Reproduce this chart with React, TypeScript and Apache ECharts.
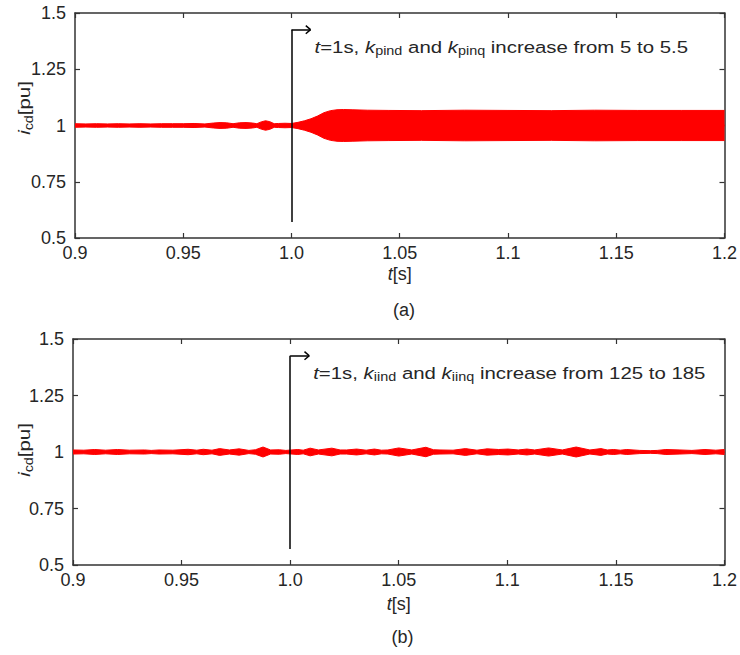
import React, { useEffect, useRef } from "react";
import * as echarts from "echarts";

// ---------- data ----------
const xTickLabels = ["0.9", "0.95", "1.0", "1.05", "1.1", "1.15", "1.2"];
const yTickLabels = ["0.5", "0.75", "1", "1.25", "1.5"];

// panel (a): envelope of the oscillating i_cd (half-width around 1 pu)
const timesA = [0.9, 0.905, 0.91, 0.915, 0.92, 0.925, 0.93, 0.935, 0.94, 0.945, 0.95, 0.955, 0.96, 0.964, 0.967, 0.97, 0.973, 0.976, 0.979, 0.982, 0.984, 0.986, 0.988, 0.99, 0.992, 0.994, 0.997, 1.0, 1.003, 1.006, 1.009, 1.012, 1.015, 1.018, 1.021, 1.024, 1.028, 1.035, 1.045, 1.06, 1.08, 1.1, 1.12, 1.14, 1.16, 1.18, 1.2];
const halfA = [0.008, 0.007, 0.008, 0.007, 0.008, 0.007, 0.008, 0.007, 0.008, 0.008, 0.008, 0.009, 0.007, 0.011, 0.013, 0.012, 0.008, 0.012, 0.013, 0.011, 0.008, 0.016, 0.021, 0.017, 0.008, 0.009, 0.01, 0.009, 0.014, 0.021, 0.03, 0.042, 0.057, 0.066, 0.07, 0.071, 0.07, 0.068, 0.067, 0.066, 0.068, 0.067, 0.066, 0.068, 0.067, 0.067, 0.067];

// panel (b)
const timesB = [0.9, 0.905, 0.91, 0.915, 0.9205, 0.926, 0.933, 0.936, 0.9396, 0.946, 0.953, 0.957, 0.96, 0.964, 0.9675, 0.972, 0.9765, 0.981, 0.984, 0.9875, 0.991, 0.995, 0.998, 1.0035, 1.006, 1.0092, 1.013, 1.0192, 1.023, 1.026, 1.0306, 1.035, 1.0388, 1.042, 1.045, 1.05, 1.056, 1.0625, 1.066, 1.069, 1.075, 1.0807, 1.086, 1.0907, 1.096, 1.1003, 1.105, 1.109, 1.1126, 1.119, 1.1253, 1.1317, 1.138, 1.1431, 1.146, 1.149, 1.152, 1.155, 1.161, 1.1658, 1.169, 1.173, 1.1795, 1.185, 1.191, 1.196, 1.2];
const halfB = [0.009, 0.008, 0.011, 0.008, 0.011, 0.008, 0.009, 0.007, 0.009, 0.008, 0.012, 0.008, 0.012, 0.008, 0.015, 0.009, 0.014, 0.007, 0.01, 0.022, 0.009, 0.01, 0.007, 0.011, 0.008, 0.017, 0.009, 0.017, 0.009, 0.009, 0.013, 0.008, 0.013, 0.008, 0.009, 0.018, 0.009, 0.021, 0.01, 0.009, 0.008, 0.015, 0.008, 0.014, 0.011, 0.013, 0.009, 0.013, 0.009, 0.018, 0.009, 0.022, 0.009, 0.015, 0.009, 0.011, 0.008, 0.011, 0.007, 0.006, 0.007, 0.011, 0.009, 0.007, 0.011, 0.008, 0.011];

const centerValue = 1.0;
const fillOverlap = 0.004;
const stepTime = 1.0;
const markerLow = 0.571;
const markerHigh = 1.426;
const arrowEnd = 1.0088;
const arrowBack = 1.0066;
const arrowHalf = 0.018;

const annotationTexts = [
  "{it|t}{n|=1s, }{it|k}{sub|pind}{n| and }{it|k}{sub|pinq}{n| increase from 5 to 5.5}",
  "{it|t}{n|=1s, }{it|k}{sub|iind}{n| and }{it|k}{sub|iinq}{n| increase from 125 to 185}",
];
const panelLabels = ["(a)", "(b)"];

// ---------- style ----------
const FONT = '"Liberation Sans", Arial, Helvetica, sans-serif';
const AXIS = "#333333";
const TXT = "#262626";
const RED = "#ff0000";

const grids = [
  { left: 75, top: 13, width: 658, height: 225 },
  { left: 73, top: 339, width: 659, height: 226 },
];

const richBase = {
  n: { fontSize: 17, fontFamily: FONT, color: TXT },
  it: { fontSize: 17, fontFamily: FONT, color: TXT, fontStyle: "italic" },
  sub: { fontSize: 12, fontFamily: FONT, color: TXT, padding: [9, 0, 0, 0] },
};
const richAxis = {
  n: { fontSize: 18, fontFamily: FONT, color: TXT },
  it: { fontSize: 18, fontFamily: FONT, color: TXT, fontStyle: "italic" },
};

function buildOption() {
  const xAxes: any[] = [];
  const yAxes: any[] = [];
  const series: any[] = [];
  const panels = [
    { t: timesA, h: halfA },
    { t: timesB, h: halfB },
  ];
  grids.forEach((g, gi) => {
    const common = {
      gridIndex: gi,
      type: "value",
      splitLine: { show: false },
      axisLine: { show: true, onZero: false, lineStyle: { color: AXIS, width: 1.5 } },
      axisTick: { show: true, inside: true, length: 5, lineStyle: { color: AXIS, width: 1.2 } },
    };
    const xc = { ...common, min: 0.9, max: 1.2, interval: 0.05 };
    const yc = { ...common, min: 0.5, max: 1.5, interval: 0.25 };
    xAxes.push({
      ...xc,
      position: "bottom",
      axisLabel: {
        show: true,
        margin: 6,
        fontSize: 18,
        fontFamily: FONT,
        color: TXT,
        showMinLabel: true,
        showMaxLabel: true,
        formatter: (v: number) => xTickLabels[Math.round((v - 0.9) / 0.05)] ?? "",
      },
      name: "{it|t}{n|[s]}",
      nameLocation: "middle",
      nameGap: gi === 0 ? 27 : 30,
      nameTextStyle: { fontSize: 18, fontFamily: FONT, color: TXT, rich: richAxis },
    });
    xAxes.push({ ...xc, position: "top", axisLabel: { show: false } });
    yAxes.push({
      ...yc,
      position: "left",
      axisLabel: {
        show: true,
        margin: 9,
        fontSize: 18,
        fontFamily: FONT,
        color: TXT,
        showMinLabel: true,
        showMaxLabel: true,
        formatter: (v: number) => yTickLabels[Math.round((v - 0.5) / 0.25)] ?? "",
      },
    });
    yAxes.push({ ...yc, position: "right", axisLabel: { show: false } });

    const p = panels[gi];
    const xi = gi * 2;
    // upper envelope, filled down to (slightly below) the centre value
    series.push({
      type: "line",
      xAxisIndex: xi,
      yAxisIndex: xi,
      symbol: "none",
      silent: true,
      lineStyle: { color: RED, width: 1 },
      areaStyle: { color: RED, opacity: 1, origin: centerValue - fillOverlap },
      data: p.t.map((t, i) => [t, centerValue + p.h[i]]),
    });
    // lower envelope, filled up to (slightly above) the centre value
    series.push({
      type: "line",
      xAxisIndex: xi,
      yAxisIndex: xi,
      symbol: "none",
      silent: true,
      lineStyle: { color: RED, width: 1 },
      areaStyle: { color: RED, opacity: 1, origin: centerValue + fillOverlap },
      data: p.t.map((t, i) => [t, centerValue - p.h[i]]),
    });
    series.push({
      type: "line",
      xAxisIndex: xi,
      yAxisIndex: xi,
      data: [],
      silent: true,
      markLine: {
        silent: true,
        symbol: ["none", "none"],
        label: { show: false },
        lineStyle: { color: "#000000", width: 1.5, type: "solid" },
        data: [
          [{ coord: [stepTime, markerLow] }, { coord: [stepTime, markerHigh] }],
          [{ coord: [stepTime, markerHigh] }, { coord: [arrowEnd, markerHigh] }],
          [{ coord: [arrowBack, markerHigh + arrowHalf] }, { coord: [arrowEnd, markerHigh] }],
          [{ coord: [arrowBack, markerHigh - arrowHalf] }, { coord: [arrowEnd, markerHigh] }],
        ],
      },
    });
  });
  return {
    animation: false,
    grid: grids.map((g) => ({ ...g, show: false, containLabel: false })),
    xAxis: xAxes,
    yAxis: yAxes,
    series,
  };
}

export default function App() {
  const ref = useRef<HTMLDivElement>(null);
  useEffect(() => {
    if (!ref.current) return;
    const chart = echarts.init(ref.current, undefined, { renderer: "svg" });
    chart.setOption(buildOption());
    const graphics: any[] = [];
    grids.forEach((g, gi) => {
      const xi = gi * 2;
      const pt = chart.convertToPixel({ xAxisIndex: xi, yAxisIndex: xi }, [stepTime, markerHigh]) as number[];
      graphics.push({
        type: "text",
        x: pt[0] + 23,
        y: pt[1] + 17,
        scaleX: 1.2,
        silent: true,
        style: {
          text: annotationTexts[gi],
          rich: richBase,
          align: "left",
          verticalAlign: "middle",
          fontSize: 17,
          fontFamily: FONT,
          fill: TXT,
        },
      });
      graphics.push({
        type: "text",
        x: g.left + g.width / 2,
        y: g.top + g.height + 72,
        silent: true,
        style: { text: panelLabels[gi], fontSize: 18, fontFamily: FONT, fill: TXT, align: "center", verticalAlign: "middle" },
      });
      graphics.push({
        type: "text",
        x: 24,
        y: gi === 0 ? 108 : 450,
        rotation: Math.PI / 2,
        scaleX: 1.2,
        silent: true,
        style: {
          text: "{it|i}{sub|cd}{n|[pu]}",
          rich: richBase,
          align: "center",
          verticalAlign: "middle",
          fontSize: 17,
          fontFamily: FONT,
          fill: TXT,
        },
      });
    });
    chart.setOption({ graphic: graphics });
    return () => chart.dispose();
  }, []);
  return <div ref={ref} style={{ position: "fixed", left: 0, top: 0, width: 740, height: 655, background: "#fff" }} />;
}
